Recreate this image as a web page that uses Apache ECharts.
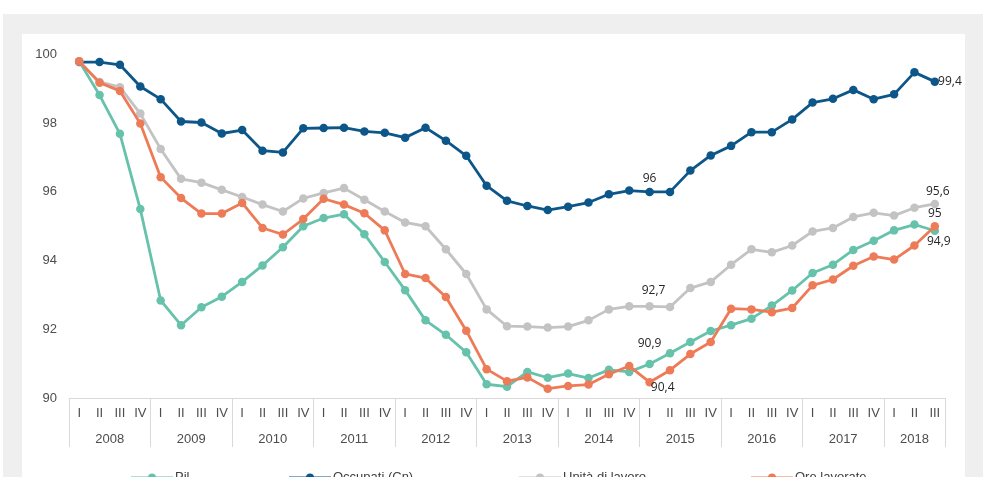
<!DOCTYPE html>
<html>
<head>
<meta charset="utf-8">
<script src="https://cdn.jsdelivr.net/npm/echarts@6/dist/echarts.min.js"></script>
<style>
  html, body { margin: 0; padding: 0; background: #ffffff; }
  #wrap { position: relative; width: 983px; height: 477px; overflow: hidden; }
  #outer { position: absolute; left: 3px; top: 14px; width: 980px; height: 463px; background: #eeefee; }
  #panel { position: absolute; left: 22px; top: 34px; width: 943px; height: 443px; background: #ffffff; }
  #chart { position: absolute; left: 0; top: 0; width: 983px; height: 477px; }
</style>
</head>
<body>
<div id="wrap">
  <div id="outer"></div>
  <div id="panel"></div>
  <div id="chart"></div>
</div>
<script>
// ---- data ----
const quarterNames = ['I', 'II', 'III', 'IV'];
const years = ['2008', '2009', '2010', '2011', '2012', '2013', '2014', '2015', '2016', '2017', '2018'];
const quartersPerYear = [4, 4, 4, 4, 4, 4, 4, 4, 4, 4, 3];
const yTicks = [90, 92, 94, 96, 98, 100];

const seriesNames = ['Pil', 'Occupati (Cn)', 'Unità di lavoro', 'Ore lavorate'];

const pil = [99.8, 98.82, 97.69, 95.5, 92.84, 92.12, 92.64, 92.95, 93.38, 93.86, 94.39, 95.0,
  95.24, 95.35, 94.77, 93.96, 93.14, 92.26, 91.84, 91.33, 90.40, 90.33, 90.76, 90.59,
  90.71, 90.58, 90.82, 90.76, 90.99, 91.30, 91.63, 91.95, 92.12, 92.31, 92.69, 93.13,
  93.64, 93.88, 94.31, 94.58, 94.88, 95.05, 94.87];
const occupati = [99.78, 99.78, 99.7, 99.07, 98.7, 98.05, 98.02, 97.7, 97.8, 97.2, 97.15, 97.85,
  97.86, 97.87, 97.76, 97.72, 97.58, 97.87, 97.49, 97.05, 96.18, 95.74, 95.59, 95.47,
  95.57, 95.69, 95.93, 96.04, 96.0, 96.0, 96.62, 97.06, 97.34, 97.74, 97.74, 98.11,
  98.6, 98.71, 98.97, 98.70, 98.84, 99.48, 99.21];
const unita = [99.8, 99.2, 99.05, 98.28, 97.25, 96.38, 96.27, 96.06, 95.85, 95.63, 95.43, 95.81,
  95.97, 96.11, 95.77, 95.43, 95.11, 95.0, 94.33, 93.61, 92.58, 92.09, 92.08, 92.05,
  92.08, 92.26, 92.58, 92.67, 92.67, 92.65, 93.2, 93.38, 93.88, 94.33, 94.24, 94.44,
  94.85, 94.95, 95.27, 95.39, 95.31, 95.54, 95.65];
const ore = [99.8, 99.18, 98.94, 97.99, 96.43, 95.82, 95.37, 95.37, 95.68, 94.95, 94.76, 95.21,
  95.8, 95.63, 95.38, 94.88, 93.61, 93.49, 92.94, 91.96, 90.84, 90.49, 90.60, 90.27,
  90.35, 90.39, 90.69, 90.93, 90.46, 90.81, 91.28, 91.63, 92.60, 92.58, 92.50, 92.62,
  93.28, 93.45, 93.85, 94.12, 94.03, 94.44, 95.0];

// annotated points: [index, text]
const pilNotes = [[28, '90,9'], [42, '94,9']];
const occNotes = [[28, '96'], [42, '99,4']];
const unitaNotes = [[28, '92,7'], [42, '95,6']];
const oreNotes = [[28, '90,4'], [42, '95']];

// ---- build ----
const categories = [];
const yearCenters = [];
const yearBounds = [-0.5];
let idx = 0;
years.forEach((y, k) => {
  const n = quartersPerYear[k];
  for (let q = 0; q < n; q++) categories.push(quarterNames[q]);
  yearCenters.push(idx + (n - 1) / 2);
  idx += n;
  yearBounds.push(idx - 0.5);
});

const colors = ['#66c2aa', '#0c5689', '#c3c3c3', '#ee7b57'];
const labelFont = { fontFamily: 'Open Sans', fontSize: 12, color: '#262626' };

// label styles per series for the two annotated points (first / last)
const labelStyles = [
  [{ position: 'top', distance: 10 }, { position: 'bottom', distance: 1, offset: [4, 0] }],
  [{ position: 'top', distance: 3 }, { position: 'right', distance: -1 }],
  [{ position: 'top', distance: 5, offset: [4, 0] }, { position: 'top', distance: 2, offset: [3, 0] }],
  [{ position: 'right', distance: -3, offset: [0, 5] }, { position: 'top', distance: 2 }]
];

function buildData(values, notes, styles) {
  return values.map((v, i) => {
    const k = notes.findIndex(n => n[0] === i);
    if (k < 0) return v;
    const txt = notes[k][1];
    return {
      value: v,
      label: Object.assign({ show: true, formatter: () => txt }, labelFont, styles[k])
    };
  });
}

const allValues = [pil, occupati, unita, ore];
const allNotes = [pilNotes, occNotes, unitaNotes, oreNotes];

const series = seriesNames.map((name, s) => ({
  name: name,
  type: 'line',
  xAxisIndex: 0,
  data: buildData(allValues[s], allNotes[s], labelStyles[s]),
  symbol: 'circle',
  symbolSize: 8.5,
  lineStyle: { width: 2.8, color: colors[s] },
  itemStyle: { color: colors[s] },
  emphasis: { disabled: true },
  animation: false,
  z: 2 + s
}));

const legendLefts = [125, 283, 513, 745];
const legends = seriesNames.map((name, s) => ({
  data: [name],
  left: legendLefts[s],
  top: 466,
  itemWidth: 42,
  itemHeight: 10,
  itemGap: 0,
  textStyle: { fontFamily: 'Liberation Sans', fontSize: 13, color: '#404040', padding: [0, 0, 0, -3] },
  selectedMode: false
}));

const chart = echarts.init(document.getElementById('chart'), null, { renderer: 'canvas' });
chart.setOption({
  backgroundColor: 'transparent',
  animation: false,
  color: colors,
  legend: legends,
  grid: { left: 69, right: 38, top: 54.5, bottom: 79, containLabel: false },
  xAxis: [
    {
      type: 'category',
      data: categories,
      boundaryGap: true,
      position: 'bottom',
      axisLine: { show: true, lineStyle: { color: '#d9d9d9', width: 1 } },
      axisTick: { show: false },
      axisLabel: { interval: 0, margin: 9, fontFamily: 'Liberation Sans', fontSize: 13, color: '#4d4d4d' }, 
      splitLine: { show: false }
    },
    {
      type: 'value',
      min: -0.5,
      max: categories.length - 0.5,
      position: 'bottom',
      axisLine: { show: false },
      axisTick: { show: true, length: 49, inside: false, customValues: yearBounds, lineStyle: { color: '#d9d9d9', width: 1 } },
      axisLabel: {
        show: true,
        margin: 35,
        customValues: yearCenters,
        formatter: (v) => {
          const k = yearCenters.findIndex(c => Math.abs(c - v) < 1e-6);
          return k >= 0 ? years[k] : '';
        },
        fontFamily: 'Liberation Sans', fontSize: 13, color: '#4d4d4d'
      },
      splitLine: { show: false }
    }
  ],
  yAxis: {
    type: 'value',
    min: yTicks[0],
    max: yTicks[yTicks.length - 1],
    interval: 2,
    axisLine: { show: false },
    axisTick: { show: false },
    splitLine: { show: false },
    axisLabel: { margin: 12, fontFamily: 'Liberation Sans', fontSize: 13, color: '#4d4d4d' }
  },
  series: series
});
</script>
</body>
</html>
